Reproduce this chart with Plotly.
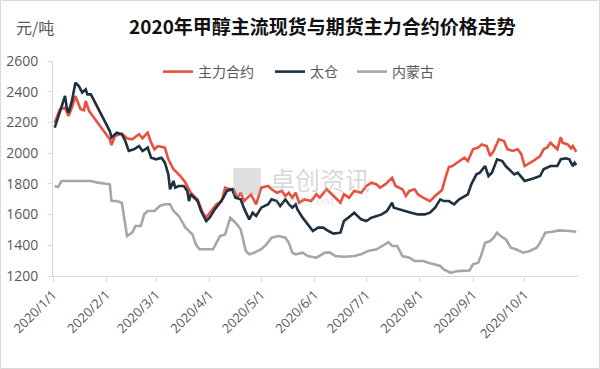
import plotly.graph_objects as go

# ---------------- data ----------------
series_names = ["主力合约", "太仓", "内蒙古"]

futures_dates = [
    "2020-01-02", "2020-01-05", "2020-01-08", "2020-01-10", "2020-01-12", "2020-01-14", "2020-01-17",
    "2020-01-19", "2020-01-20", "2020-01-22", "2020-02-03", "2020-02-04", "2020-02-06", "2020-02-10",
    "2020-02-13", "2020-02-16", "2020-02-20", "2020-02-22", "2020-02-25", "2020-02-27", "2020-02-29",
    "2020-03-02", "2020-03-06", "2020-03-08", "2020-03-11", "2020-03-15", "2020-03-18", "2020-03-20",
    "2020-03-21", "2020-03-25", "2020-03-28", "2020-03-30", "2020-04-02", "2020-04-05", "2020-04-08",
    "2020-04-10", "2020-04-13", "2020-04-15", "2020-04-17", "2020-04-19", "2020-04-21", "2020-04-23",
    "2020-04-25", "2020-04-28", "2020-05-01", "2020-05-05", "2020-05-07", "2020-05-10", "2020-05-13",
    "2020-05-15", "2020-05-17", "2020-05-19", "2020-05-21", "2020-05-23", "2020-05-26", "2020-05-30",
    "2020-06-02", "2020-06-04", "2020-06-08", "2020-06-11", "2020-06-16", "2020-06-18", "2020-06-21",
    "2020-06-24", "2020-06-28", "2020-07-01", "2020-07-04", "2020-07-07", "2020-07-09", "2020-07-12",
    "2020-07-16", "2020-07-18", "2020-07-22", "2020-07-24", "2020-07-26", "2020-07-29", "2020-07-31",
    "2020-08-03", "2020-08-07", "2020-08-10", "2020-08-13", "2020-08-14", "2020-08-16", "2020-08-18",
    "2020-08-20", "2020-08-24", "2020-08-27", "2020-08-29", "2020-09-01", "2020-09-04", "2020-09-06",
    "2020-09-09", "2020-09-11", "2020-09-13", "2020-09-16", "2020-09-19", "2020-09-21", "2020-09-24",
    "2020-09-27", "2020-09-29", "2020-10-01", "2020-10-06", "2020-10-10", "2020-10-12", "2020-10-14",
    "2020-10-16", "2020-10-18", "2020-10-20", "2020-10-22", "2020-10-23", "2020-10-26", "2020-10-28",
    "2020-10-29", "2020-10-31",
]
futures_values = [
    2198, 2286, 2296, 2242, 2296, 2372, 2286,
    2279, 2340, 2274, 2090, 2053, 2112, 2127,
    2097, 2090, 2123, 2097, 2133, 2068, 2025,
    2046, 2036, 1960, 1895, 1851, 1807, 1765,
    1742, 1699, 1612, 1580, 1623, 1667, 1688,
    1775, 1765, 1765, 1710, 1742, 1688, 1710,
    1732, 1667, 1775, 1786, 1765, 1742, 1754,
    1721, 1742, 1710, 1742, 1677, 1699, 1688,
    1732, 1710, 1765, 1732, 1677, 1732, 1710,
    1754, 1742, 1786, 1807, 1796, 1775, 1796,
    1840, 1786, 1765, 1721, 1754, 1765, 1732,
    1710, 1688, 1721, 1754, 1760, 1840, 1910,
    1916, 1949, 1970, 1949, 2025, 2036, 2057,
    2046, 1981, 2014, 2090, 2079, 2025, 2014,
    2025, 1995, 1916, 1949, 1981, 2025, 2036,
    2068, 2046, 2025, 2105, 2068, 2057, 2031,
    2046, 2009,
]

taicang_dates = [
    "2020-01-02", "2020-01-04", "2020-01-06", "2020-01-08", "2020-01-09", "2020-01-10", "2020-01-12",
    "2020-01-14", "2020-01-16", "2020-01-18", "2020-01-20", "2020-01-21", "2020-01-23", "2020-01-24",
    "2020-02-03", "2020-02-04", "2020-02-05", "2020-02-07", "2020-02-10", "2020-02-12", "2020-02-14",
    "2020-02-17", "2020-02-20", "2020-02-22", "2020-02-25", "2020-02-27", "2020-03-01", "2020-03-04",
    "2020-03-06", "2020-03-08", "2020-03-09", "2020-03-11", "2020-03-12", "2020-03-14", "2020-03-17",
    "2020-03-19", "2020-03-20", "2020-03-21", "2020-03-22", "2020-03-25", "2020-03-27", "2020-03-30",
    "2020-04-01", "2020-04-04", "2020-04-07", "2020-04-09", "2020-04-11", "2020-04-14", "2020-04-16",
    "2020-04-19", "2020-04-21", "2020-04-24", "2020-04-26", "2020-04-28", "2020-05-01", "2020-05-05",
    "2020-05-07", "2020-05-10", "2020-05-12", "2020-05-15", "2020-05-17", "2020-05-19", "2020-05-21",
    "2020-05-22", "2020-05-25", "2020-05-28", "2020-05-31", "2020-06-03", "2020-06-06", "2020-06-09",
    "2020-06-12", "2020-06-16", "2020-06-18", "2020-06-20", "2020-06-24", "2020-06-28", "2020-07-01",
    "2020-07-04", "2020-07-07", "2020-07-10", "2020-07-13", "2020-07-16", "2020-07-17", "2020-07-20",
    "2020-07-23", "2020-07-27", "2020-07-31", "2020-08-04", "2020-08-07", "2020-08-10", "2020-08-13",
    "2020-08-15", "2020-08-18", "2020-08-21", "2020-08-24", "2020-08-29", "2020-08-31", "2020-09-03",
    "2020-09-05", "2020-09-08", "2020-09-10", "2020-09-12", "2020-09-15", "2020-09-18", "2020-09-20",
    "2020-09-23", "2020-09-25", "2020-09-27", "2020-09-30", "2020-10-01", "2020-10-06", "2020-10-10",
    "2020-10-12", "2020-10-16", "2020-10-20", "2020-10-22", "2020-10-25", "2020-10-27", "2020-10-29",
    "2020-10-30", "2020-10-31",
]
taicang_values = [
    2166, 2231, 2296, 2372, 2296, 2263, 2340,
    2459, 2437, 2394, 2416, 2383, 2383, 2361,
    2144, 2101, 2112, 2133, 2123, 2079, 2014,
    2025, 2046, 2014, 2036, 1970, 1960, 1970,
    1938, 1862, 1765, 1819, 1775, 1786, 1786,
    1754, 1688, 1732, 1721, 1688, 1623, 1558,
    1580, 1634, 1677, 1710, 1754, 1765, 1710,
    1699, 1640, 1569, 1612, 1591, 1645, 1667,
    1699, 1688, 1656, 1699, 1667, 1645, 1667,
    1634, 1580, 1537, 1493, 1515, 1515, 1493,
    1476, 1482, 1558, 1575, 1612, 1569, 1558,
    1580, 1591, 1601, 1623, 1677, 1645, 1634,
    1623, 1612, 1601, 1601, 1612, 1645, 1699,
    1688, 1688, 1667, 1699, 1732, 1797, 1862,
    1873, 1916, 1851, 1873, 1960, 1949, 1916,
    1884, 1862, 1873, 1830, 1819, 1835, 1851,
    1895, 1916, 1916, 1960, 1966, 1960, 1916,
    1938, 1922,
]

neimenggu_dates = [
    "2020-01-02", "2020-01-04", "2020-01-06", "2020-01-23", "2020-01-27", "2020-02-03", "2020-02-04",
    "2020-02-07", "2020-02-10", "2020-02-12", "2020-02-13", "2020-02-16", "2020-02-18", "2020-02-21",
    "2020-02-23", "2020-02-25", "2020-02-29", "2020-03-03", "2020-03-06", "2020-03-09", "2020-03-11",
    "2020-03-14", "2020-03-18", "2020-03-22", "2020-03-24", "2020-03-26", "2020-04-03", "2020-04-05",
    "2020-04-07", "2020-04-10", "2020-04-13", "2020-04-16", "2020-04-19", "2020-04-20", "2020-04-22",
    "2020-04-24", "2020-04-27", "2020-05-01", "2020-05-04", "2020-05-07", "2020-05-11", "2020-05-15",
    "2020-05-17", "2020-05-19", "2020-05-21", "2020-05-25", "2020-05-28", "2020-06-02", "2020-06-07",
    "2020-06-10", "2020-06-13", "2020-06-18", "2020-06-24", "2020-06-28", "2020-07-02", "2020-07-07",
    "2020-07-10", "2020-07-14", "2020-07-16", "2020-07-19", "2020-07-22", "2020-07-26", "2020-07-29",
    "2020-08-03", "2020-08-06", "2020-08-10", "2020-08-13", "2020-08-15", "2020-08-19", "2020-08-23",
    "2020-08-30", "2020-09-01", "2020-09-04", "2020-09-06", "2020-09-08", "2020-09-11", "2020-09-13",
    "2020-09-15", "2020-09-17", "2020-09-20", "2020-09-23", "2020-09-26", "2020-09-30", "2020-10-04",
    "2020-10-08", "2020-10-10", "2020-10-13", "2020-10-17", "2020-10-21", "2020-10-27", "2020-10-31",
]
neimenggu_values = [
    1786, 1780, 1819, 1819, 1808, 1797, 1688,
    1688, 1677, 1537, 1460, 1482, 1526, 1526,
    1602, 1623, 1623, 1656, 1667, 1667, 1623,
    1591, 1515, 1471, 1406, 1374, 1374, 1417,
    1460, 1471, 1580, 1547, 1504, 1460, 1363,
    1341, 1352, 1374, 1406, 1450, 1460, 1450,
    1417, 1352, 1341, 1352, 1330, 1319, 1352,
    1352, 1330, 1325, 1330, 1341, 1363, 1374,
    1395, 1421, 1395, 1395, 1330, 1319, 1298,
    1298, 1287, 1276, 1265, 1243, 1221, 1232,
    1236, 1276, 1287, 1341, 1417, 1428, 1450,
    1482, 1460, 1439, 1384, 1374, 1352, 1363,
    1384, 1417, 1482, 1488, 1497, 1493, 1488,
]

tick_dates = ["2020-01-01", "2020-02-01", "2020-03-01", "2020-04-01", "2020-05-01",
              "2020-06-01", "2020-07-01", "2020-08-01", "2020-09-01", "2020-10-01"]
tick_labels = ["2020/1/1", "2020/2/1", "2020/3/1", "2020/4/1", "2020/5/1",
               "2020/6/1", "2020/7/1", "2020/8/1", "2020/9/1", "2020/10/1"]
y_ticks = [1200, 1400, 1600, 1800, 2000, 2200, 2400, 2600]

colors = ["#E8503F", "#1E3141", "#A6A6A6"]

# ---------------- figure ----------------
W, H = 600, 369
ml, mr, mt, mb = 53, 22, 61, 93
pw, ph = W - ml - mr, H - mt - mb

def px_x(px):
    return (px - ml) / pw

def px_y(py):
    return (H - mb - py) / ph

legend_ids = ["legend", "legend2", "legend3"]
legend_left_px = [158, 270, 352]

fig = go.Figure()
for name, xs, ys, c, lg in zip(series_names,
                               [futures_dates, taicang_dates, neimenggu_dates],
                               [futures_values, taicang_values, neimenggu_values],
                               colors, legend_ids):
    fig.add_trace(go.Scatter(x=xs, y=ys, name=name, mode="lines", legend=lg,
                             line=dict(color=c, width=2.6)))

font_fam = "Noto Sans CJK SC, Open Sans, sans-serif"
axis_col = "#D9D9D9"
txt_col = "#595959"

legend_common = dict(orientation="h", yanchor="middle", xanchor="left",
                     font=dict(size=14, color=txt_col, family=font_fam),
                     bgcolor="rgba(0,0,0,0)", itemwidth=30)

fig.update_layout(
    width=W, height=H,
    margin=dict(l=ml, r=mr, t=mt, b=mb, autoexpand=False),
    paper_bgcolor="white", plot_bgcolor="white",
    font=dict(family=font_fam, color=txt_col, size=13),
    showlegend=True,
    legend=dict(x=px_x(legend_left_px[0]), y=px_y(72), **legend_common),
    legend2=dict(x=px_x(legend_left_px[1]), y=px_y(72), **legend_common),
    legend3=dict(x=px_x(legend_left_px[2]), y=px_y(72), **legend_common),
    xaxis=dict(type="date", range=["2020-01-01", "2020-11-01"], automargin=False,
               tickmode="array", tickvals=tick_dates, ticktext=tick_labels,
               tickangle=-45, showgrid=False, zeroline=False,
               showline=True, linecolor=axis_col, linewidth=1,
               ticks="outside", ticklen=5, tickcolor=axis_col,
               tickfont=dict(size=13, color=txt_col, family="Open Sans, sans-serif")),
    yaxis=dict(range=[1200, 2600], tickmode="array", tickvals=y_ticks, automargin=False,
               showgrid=False, zeroline=False,
               showline=True, linecolor=axis_col, linewidth=1,
               ticks="outside", ticklen=4, tickcolor=axis_col, ticklabelstandoff=7,
               tickfont=dict(size=14, color=txt_col, family="Open Sans, sans-serif")),
    annotations=[
        dict(text="<b>2020年甲醇主流现货与期货主力合约价格走势</b>", xref="paper", yref="paper",
             x=px_x(322), y=px_y(26), xanchor="center", yanchor="middle", showarrow=False,
             font=dict(size=19, color="#111111", family=font_fam)),
        dict(text="元/吨", xref="paper", yref="paper",
             x=px_x(14), y=px_y(27), xanchor="left", yanchor="middle", showarrow=False,
             font=dict(size=16, color=txt_col, family=font_fam)),
        dict(text="卓创资讯", xref="paper", yref="paper",
             x=px_x(268), y=px_y(179), xanchor="left", yanchor="middle", showarrow=False,
             font=dict(size=25, color="rgba(170,170,170,0.45)", family=font_fam)),
        dict(text="SCI99.COM", xref="paper", yref="paper",
             x=px_x(272), y=px_y(202), xanchor="left", yanchor="middle", showarrow=False,
             font=dict(size=10, color="rgba(170,170,170,0.35)", family="DejaVu Serif, serif")),
        dict(text="■", xref="paper", yref="paper",
             x=px_x(247), y=px_y(180), xanchor="center", yanchor="middle", showarrow=False,
             font=dict(size=34, color="rgba(170,170,170,0.4)", family=font_fam)),
    ],
    shapes=[
        dict(type="rect", xref="paper", yref="paper", layer="above",
             x0=px_x(0.5), x1=px_x(599.5), y0=px_y(368.5), y1=px_y(0.5),
             line=dict(color="#D9D9D9", width=1), fillcolor="rgba(0,0,0,0)"),
    ],
)

fig.write_html("out.html", config={"displayModeBar": False},
               post_script="document.body.style.margin='0';document.body.style.padding='0';"
                           "document.body.style.overflow='hidden';")
